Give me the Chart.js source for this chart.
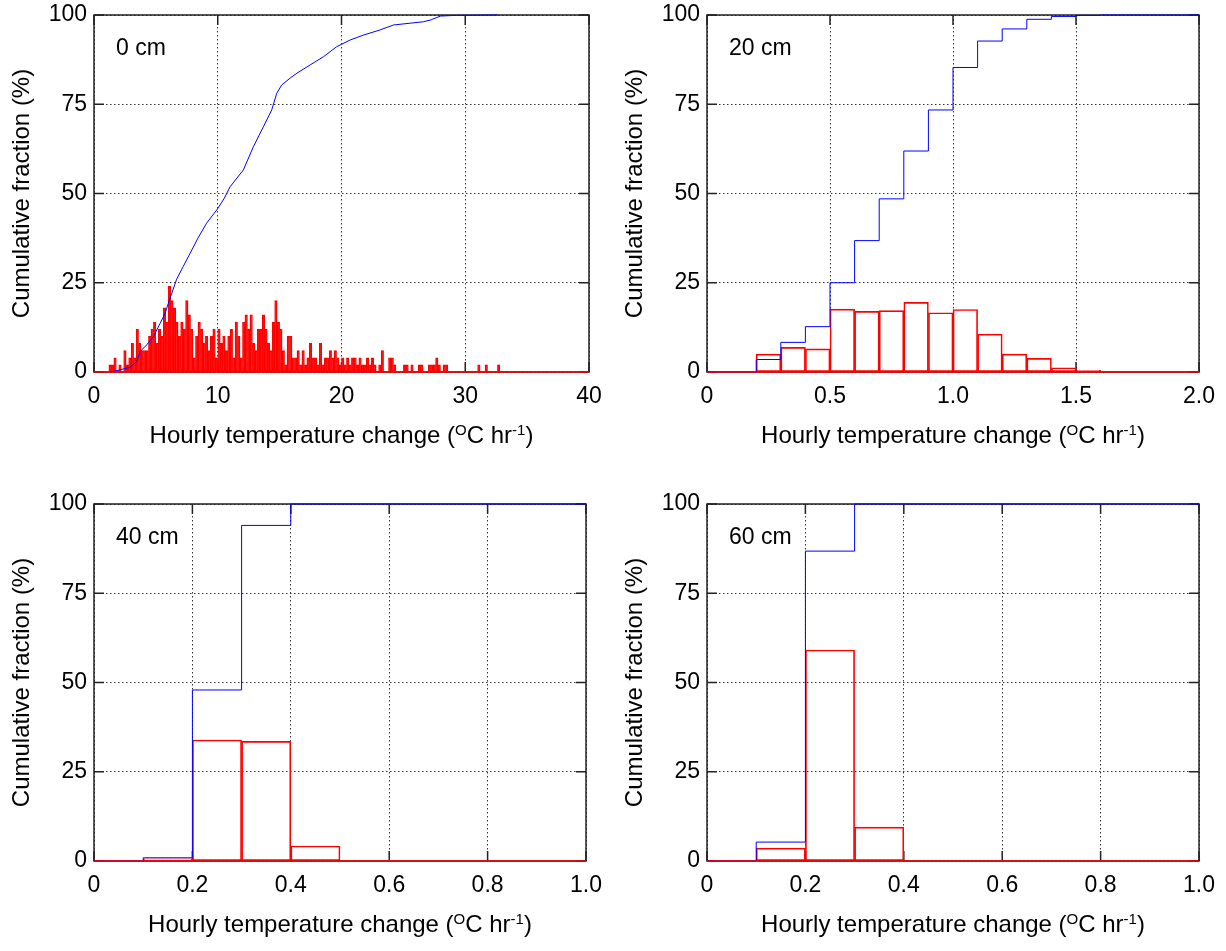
<!DOCTYPE html>
<html>
<head>
<meta charset="utf-8">
<script src="https://cdn.jsdelivr.net/npm/chart.js@4.4.1/dist/chart.umd.min.js"></script>
<style>
  html, body { margin: 0; padding: 0; background: #fff; }
  #wrap { position: relative; width: 1226px; height: 951px; }
  canvas { position: absolute; }
</style>
</head>
<body>
<div id="wrap">
  <canvas id="p0" width="613" height="462" style="left:0;top:0"></canvas>
  <canvas id="p20" width="613" height="462" style="left:613px;top:0"></canvas>
  <canvas id="p40" width="613" height="462" style="left:0;top:489px"></canvas>
  <canvas id="p60" width="613" height="462" style="left:613px;top:489px"></canvas>
</div>
<script>
// ---- data ----

const yTicks = [0, 25, 50, 75, 100];

// 0 cm: histogram in 0.2 degree bins starting at 1.0, plus the cumulative curve
const hist0Start = 1.0;
const hist0Width = 0.2;
const hist0 = [
  0, 2, 2, 4, 0, 2, 0, 6, 2, 4, 8, 4, 12, 8, 6, 6, 6, 10, 12, 14,
  8, 12, 10, 18, 14, 24, 20, 18, 14, 10, 14, 12, 20,
  16, 12, 4, 10, 14, 12, 8, 10, 6, 10, 12, 4, 12, 8, 10, 6, 10, 12, 4, 14,
  10, 4, 14, 16, 12, 16, 8, 6, 12, 12, 16, 12, 8, 6, 14, 20, 14,
  12, 6, 2, 10, 10, 4, 4, 6, 2, 6, 2, 4, 8, 4, 4, 2, 8, 2, 4, 4,
  6, 4, 6, 4, 2, 4, 2, 4, 2, 4, 4, 2, 4, 2,
  2, 4, 2, 4, 2, 0, 2, 6, 0, 0, 4, 4, 2, 0, 0, 0, 2, 2, 0, 2,
  0, 0, 2, 2, 0, 0, 2, 2, 2, 4, 2, 0, 2, 2,
  0, 0, 0, 0, 0, 0, 0, 0, 0, 0, 0, 0, 2, 0, 0, 2, 0, 0, 0, 0, 2
];
const cum0X = [1.3, 2.1, 2.9, 3.45, 3.72, 4.26, 4.8, 5.34, 5.74, 6.0, 6.28, 6.68, 7.2, 7.76,
  8.4, 9.1, 9.92, 10.5, 11.0, 12.07, 12.88, 13.69, 14.36, 14.77, 15.17, 15.84, 16.4,
  17.46, 18.54, 19.6, 20.7, 21.8, 23.1, 24.2, 26.6, 27.2, 28.0, 29.3, 32.6];
const cum0Y = [0, 0.6, 1.3, 2.9, 5.7, 7.6, 9.9, 13.6, 16.4, 19.2, 22, 26, 29.5, 33.2,
  37.5, 41.7, 45.4, 48.5, 51.9, 56.6, 63.1, 68.7, 73.4, 78.1, 80.4, 82.3, 83.7,
  86, 88.3, 91.1, 93, 94.4, 95.8, 97.2, 98.1, 98.6, 99.7, 99.9, 100];
const xTicks0 = [0, 10, 20, 30, 40];
const xLabels0 = ['0', '10', '20', '30', '40'];

// 20 cm: 0.1 degree bins from 0 to 2.0
const hist20 = [0, 0, 5.0, 6.9, 6.5, 17.6, 17.0, 17.2, 19.5, 16.6, 17.5, 10.6, 5.0, 3.8, 1.2, 0.5, 0.2, 0.1, 0.1, 0.1];
const cum20 = [0, 0, 3.5, 8.3, 12.7, 25.0, 36.8, 48.5, 61.9, 73.4, 85.3, 92.7, 96.1, 98.8, 99.6, 99.9, 100, 100, 100, 100];
const xTicks20 = [0, 0.5, 1.0, 1.5, 2.0];
const xLabels20 = ['0', '0.5', '1.0', '1.5', '2.0'];

// 40 cm and 60 cm: 0.1 degree bins from 0 to 1.0
const hist40 = [0, 0.6, 33.9, 33.5, 4.2, 0, 0, 0, 0, 0];
const cum40 = [0, 0.9, 47.9, 94.0, 100, 100, 100, 100, 100, 100];
const hist60 = [0, 3.6, 59.1, 9.5, 0, 0, 0, 0, 0, 0];
const cum60 = [0, 5.3, 86.8, 100, 100, 100, 100, 100, 100, 100];
const xTicksDeep = [0, 0.2, 0.4, 0.6, 0.8, 1.0];
const xLabelsDeep = ['0', '0.2', '0.4', '0.6', '0.8', '1.0'];

const panelLabels = ['0 cm', '20 cm', '40 cm', '60 cm'];
const yTitle = 'Cumulative fraction (%)';
// x title has two superscripts, so it is drawn in pieces
const xTitleParts = [
  { text: 'Hourly temperature change (', sup: false },
  { text: 'O', sup: true },
  { text: 'C hr', sup: false },
  { text: '-1', sup: true },
  { text: ')', sup: false },
];

// ---- styling ----
const FONT = "'Liberation Sans', Arial, Helvetica, sans-serif";
const TICK_SIZE = 23;
const TITLE_SIZE = 24;
const SUP_SIZE = 15;
const TICK_LEN = 10;
const RED = '#ff0000';
const BLUE = '#0000ff';

Chart.defaults.font.family = FONT;
Chart.defaults.color = '#000';
Chart.defaults.animation = false;

function histPoints(start, width, heights) {
  return heights.map((h, i) => ({ x: start + width * (i + 0.5), y: h }));
}

// cumulative value holds over each bin, so one point per bin start plus the last edge
function stepPoints(start, width, cum) {
  const pts = cum.map((c, i) => ({ x: start + width * i, y: c }));
  pts.push({ x: start + width * cum.length, y: cum[cum.length - 1] });
  return pts;
}

const framePlugin = {
  id: 'frame',
  beforeDatasetsDraw(chart) {
    const { ctx, chartArea: a, scales: { x, y } } = chart;
    ctx.save();
    ctx.strokeStyle = '#222';
    ctx.lineWidth = 1.5;
    ctx.strokeRect(a.left, a.top, a.right - a.left, a.bottom - a.top);
    ctx.beginPath();
    x.ticks.forEach((t) => {
      const px = x.getPixelForValue(t.value);
      ctx.moveTo(px, a.bottom); ctx.lineTo(px, a.bottom - TICK_LEN);
      ctx.moveTo(px, a.top); ctx.lineTo(px, a.top + TICK_LEN);
    });
    y.ticks.forEach((t) => {
      const py = y.getPixelForValue(t.value);
      ctx.moveTo(a.left, py); ctx.lineTo(a.left + TICK_LEN, py);
      ctx.moveTo(a.right, py); ctx.lineTo(a.right - TICK_LEN, py);
    });
    ctx.stroke();
    ctx.restore();
  },
  afterDraw(chart, args, opts) {
    const { ctx, chartArea: a } = chart;
    ctx.save();
    ctx.fillStyle = '#000';
    ctx.textBaseline = 'alphabetic';
    ctx.textAlign = 'left';
    ctx.font = `${TICK_SIZE}px ${FONT}`;
    ctx.fillText(opts.label, a.left + 22, a.top + 40);

    // x axis title with superscripts
    let total = 0;
    xTitleParts.forEach((p) => {
      ctx.font = `${p.sup ? SUP_SIZE : TITLE_SIZE}px ${FONT}`;
      p.w = ctx.measureText(p.text).width;
      total += p.w;
    });
    let tx = (a.left + a.right) / 2 - total / 2;
    const base = a.bottom + 71;
    xTitleParts.forEach((p) => {
      ctx.font = `${p.sup ? SUP_SIZE : TITLE_SIZE}px ${FONT}`;
      ctx.fillText(p.text, tx, p.sup ? base - 8 : base);
      tx += p.w;
    });
    ctx.restore();
  },
};

function makePanel(id, p) {
  const datasets = [
    {
      type: 'line',
      data: [{ x: p.xTicks[0], y: 0 }, { x: p.xTicks[p.xTicks.length - 1], y: 0 }],
      borderColor: RED,
      borderWidth: 1.5,
      pointRadius: 0,
      clip: 4,
      order: 0,
    },
    {
      type: 'line',
      data: p.cum,
      borderColor: BLUE,
      borderWidth: 1,
      pointRadius: 0,
      stepped: p.stepped,
      clip: 4,
      order: 1,
    },
    {
      type: 'bar',
      data: p.hist,
      backgroundColor: p.fill,
      borderColor: RED,
      borderWidth: 1,
      borderSkipped: false,
      barPercentage: 1,
      categoryPercentage: 1,
      order: 2,
    },
  ];

  return new Chart(document.getElementById(id), {
    type: 'bar',
    data: { datasets },
    plugins: [framePlugin],
    options: {
      responsive: false,
      layout: { padding: { left: 0, right: 24, top: 15, bottom: 4 } },
      plugins: {
        legend: { display: false },
        tooltip: { enabled: false },
        frame: { label: p.label },
      },
      scales: {
        x: {
          type: 'linear',
          min: p.xTicks[0],
          max: p.xTicks[p.xTicks.length - 1],
          offset: false,
          afterBuildTicks: (s) => { s.ticks = p.xTicks.map((v) => ({ value: v })); },
          afterFit: (s) => { s.height = 86; },
          ticks: {
            autoSkip: false,
            maxRotation: 0,
            padding: 11,
            font: { size: TICK_SIZE },
            callback: (v, i) => p.xLabels[i],
          },
          grid: { color: '#333', lineWidth: 1, drawTicks: false, offset: false },
          border: { display: false, dash: [1.5, 2.5] },
        },
        y: {
          min: 0,
          max: 100,
          afterBuildTicks: (s) => { s.ticks = yTicks.map((v) => ({ value: v })); },
          afterFit: (s) => { s.width = 94; },
          // small lineHeight so the top label does not push the plot area down
          ticks: { padding: 7, font: { size: TICK_SIZE, lineHeight: 0.6 } },
          grid: { color: '#333', lineWidth: 1, drawTicks: false },
          border: { display: false, dash: [1.5, 2.5] },
          title: {
            display: true,
            text: yTitle,
            font: { size: TITLE_SIZE },
            padding: { top: 8, bottom: 0 },
          },
        },
      },
    },
  });
}

makePanel('p0', {
  label: panelLabels[0],
  xTicks: xTicks0, xLabels: xLabels0,
  hist: histPoints(hist0Start, hist0Width, hist0),
  cum: cum0X.map((x, i) => ({ x, y: cum0Y[i] })),
  stepped: false,
  fill: 'rgba(255,0,0,0.75)',
});
makePanel('p20', {
  label: panelLabels[1],
  xTicks: xTicks20, xLabels: xLabels20,
  hist: histPoints(0, 0.1, hist20),
  cum: stepPoints(0, 0.1, cum20),
  stepped: true,
  fill: 'rgba(255,255,255,0)',
});
makePanel('p40', {
  label: panelLabels[2],
  xTicks: xTicksDeep, xLabels: xLabelsDeep,
  hist: histPoints(0, 0.1, hist40),
  cum: stepPoints(0, 0.1, cum40),
  stepped: true,
  fill: 'rgba(255,255,255,0)',
});
makePanel('p60', {
  label: panelLabels[3],
  xTicks: xTicksDeep, xLabels: xLabelsDeep,
  hist: histPoints(0, 0.1, hist60),
  cum: stepPoints(0, 0.1, cum60),
  stepped: true,
  fill: 'rgba(255,255,255,0)',
});
</script>
</body>
</html>
